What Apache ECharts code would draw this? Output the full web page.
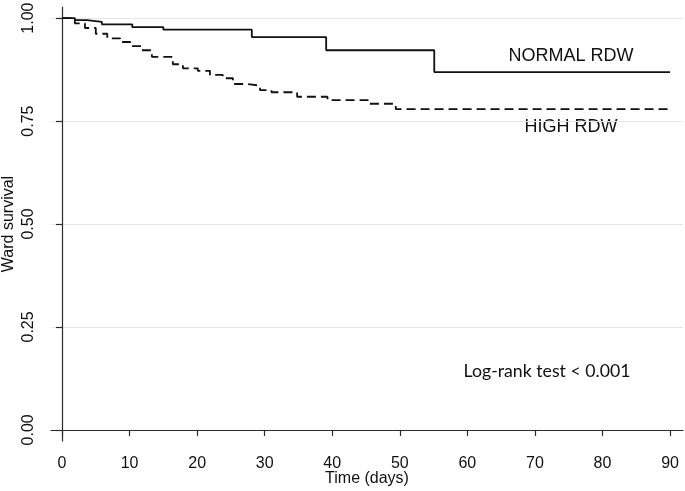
<!DOCTYPE html>
<html>
<head>
<meta charset="utf-8">
<script src="https://cdn.jsdelivr.net/npm/echarts@6/dist/echarts.min.js"></script>
<style>html,body{margin:0;padding:0;background:#fff}#c{width:685px;height:491px}</style>
</head>
<body>
<div id="c"></div>
<script>
// Kaplan-Meier survival estimates [time (days), survival]
var normalRDW = [[0,1.0],[1.9,0.995],[3.7,0.991],[5.9,0.985],[10.4,0.978],[15.0,0.972],[28.1,0.954],[39.1,0.922],[55.1,0.869],[90,0.869]];
var highRDW = [[0,1.0],[1.9,0.987],[3.4,0.976],[5.0,0.962],[6.7,0.951],[8.6,0.942],[10.1,0.932],[11.8,0.922],[13.3,0.906],[16.4,0.888],[17.9,0.878],[20.1,0.872],[21.9,0.862],[23.8,0.854],[25.3,0.840],[27.5,0.836],[29.3,0.825],[31.0,0.820],[34.8,0.809],[39.3,0.801],[45.3,0.792],[49.4,0.779],[90,0.779]];
var xTicks = [0,10,20,30,40,50,60,70,80,90];
var yTicks = [0,0.25,0.5,0.75,1.0];
var seriesNames = ['NORMAL RDW','HIGH RDW'];
var noteText = 'Log-rank test < 0.001';

var chart = echarts.init(document.getElementById('c'));
var axisCol = '#2b2b2b';
var gridCol = '#e0e9ed';
chart.setOption({
  animation: false,
  grid: {left: 51, right: 2, top: 7, bottom: 50, containLabel: false, outerBoundsMode: 'none'},
  xAxis: {
    type: 'value', min: -1.63, max: 91.92,
    name: 'Time (days)', nameLocation: 'middle', nameGap: 30, nameMoveOverlap: false,
    nameTextStyle: {fontFamily: 'Liberation Sans', fontSize: 16, color: '#111'},
    axisLine: {show: true, lineStyle: {color: axisCol, width: 1.2}},
    axisTick: {show: true, length: 6, customValues: xTicks, lineStyle: {color: axisCol, width: 1.2}},
    axisLabel: {customValues: xTicks, margin: 15, fontFamily: 'Liberation Sans', fontSize: 16, color: '#111'},
    splitLine: {show: false}
  },
  yAxis: {
    type: 'value', min: -0.027, max: 1.027,
    name: 'Ward survival', nameLocation: 'middle', nameGap: 34, nameMoveOverlap: false,
    nameTextStyle: {fontFamily: 'Liberation Sans', fontSize: 16, color: '#111'},
    axisLine: {show: true, lineStyle: {color: axisCol, width: 1.2}},
    axisTick: {show: true, length: 6, customValues: yTicks, lineStyle: {color: axisCol, width: 1.2}},
    axisLabel: {customValues: yTicks, rotate: 90, margin: 14, fontFamily: 'Liberation Sans', fontSize: 16, color: '#111',
      formatter: function (v) { return v.toFixed(2); }},
    splitLine: {show: true, lineStyle: {color: ['rgba(0,0,0,0)', gridCol, gridCol, gridCol, gridCol], width: 1}}
  },
  series: [
    {name: seriesNames[0], type: 'line', step: 'end', data: normalRDW, showSymbol: false, symbol: 'none',
     lineStyle: {color: '#111', width: 1.8}, z: 3},
    {name: seriesNames[1], type: 'line', step: 'end', data: highRDW, showSymbol: false, symbol: 'none',
     lineStyle: {color: '#111', width: 1.8, type: [9, 5]}, z: 3}
  ],
  graphic: [
    {type: 'text', x: 571, y: 56, style: {text: seriesNames[0], font: '18px "Liberation Sans"', fill: '#111', align: 'center', verticalAlign: 'middle'}},
    {type: 'text', x: 571, y: 127, style: {text: seriesNames[1], font: '18px "Liberation Sans"', fill: '#111', align: 'center', verticalAlign: 'middle'}},
    {type: 'text', x: 547, y: 371, style: {text: noteText, font: '17.7px Lato', fill: '#111', align: 'center', verticalAlign: 'middle'}}
  ]
});
</script>
</body>
</html>
